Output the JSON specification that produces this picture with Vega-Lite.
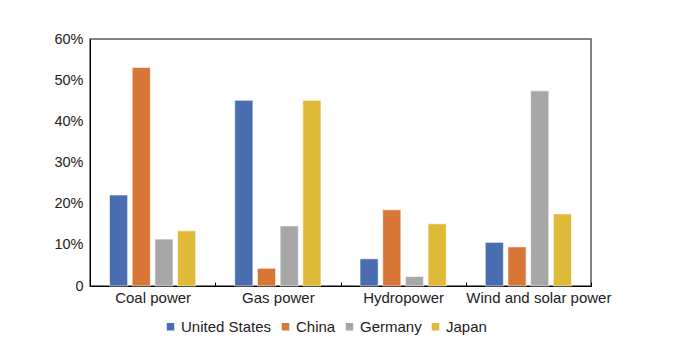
{
  "$schema": "https://vega.github.io/schema/vega-lite/v6.json",
  "width": 501,
  "height": 247,
  "autosize": {"type": "none"},
  "padding": {"left": 90, "top": 39, "right": 88, "bottom": 74},
  "background": "white",
  "config": {
    "font": "Liberation Sans",
    "view": {"stroke": "#5a5a5a", "strokeWidth": 1.5}
  },
  "data": {
    "values": [
      {"source": "Coal power", "country": "United States", "share": 22.1},
      {"source": "Coal power", "country": "China", "share": 53.1},
      {"source": "Coal power", "country": "Germany", "share": 11.4},
      {"source": "Coal power", "country": "Japan", "share": 13.4},
      {"source": "Gas power", "country": "United States", "share": 45.1},
      {"source": "Gas power", "country": "China", "share": 4.3},
      {"source": "Gas power", "country": "Germany", "share": 14.6},
      {"source": "Gas power", "country": "Japan", "share": 45.1},
      {"source": "Hydropower", "country": "United States", "share": 6.6},
      {"source": "Hydropower", "country": "China", "share": 18.5},
      {"source": "Hydropower", "country": "Germany", "share": 2.3},
      {"source": "Hydropower", "country": "Japan", "share": 15.1},
      {"source": "Wind and solar power", "country": "United States", "share": 10.6},
      {"source": "Wind and solar power", "country": "China", "share": 9.5},
      {"source": "Wind and solar power", "country": "Germany", "share": 47.4},
      {"source": "Wind and solar power", "country": "Japan", "share": 17.5}
    ]
  },
  "mark": {"type": "bar", "stroke": "#ffffff", "strokeOpacity": 0.6, "strokeWidth": 1},
  "encoding": {
    "x": {
      "field": "source",
      "type": "nominal",
      "sort": ["Coal power", "Gas power", "Hydropower", "Wind and solar power"],
      "scale": {"paddingInner": 0, "paddingOuter": 0},
      "axis": {
        "title": null,
        "labelAngle": 0,
        "tickBand": "extent",
        "tickSize": -4,
        "tickColor": "#000000",
        "domainColor": "#000000",
        "labelFontSize": 15,
        "labelColor": "#222222",
        "labelPadding": 8,
        "labelOffset": {"condition": {"test": "datum.label == 'Wind and solar power'", "value": 10}, "value": 0}
      }
    },
    "xOffset": {
      "field": "country",
      "sort": ["United States", "China", "Germany", "Japan"],
      "scale": {"paddingInner": 0.2, "paddingOuter": 0.86}
    },
    "y": {
      "field": "share",
      "type": "quantitative",
      "scale": {"domain": [0, 60]},
      "axis": {
        "title": null,
        "values": [0, 10, 20, 30, 40, 50, 60],
        "labelExpr": "datum.value == 0 ? '0' : datum.value + '%'",
        "grid": false,
        "ticks": false,
        "labelPadding": 7,
        "domainColor": "#000000",
        "labelFontSize": 14.5,
        "labelColor": "#222222"
      }
    },
    "color": {
      "field": "country",
      "type": "nominal",
      "sort": ["United States", "China", "Germany", "Japan"],
      "scale": {
        "domain": ["United States", "China", "Germany", "Japan"],
        "range": ["#4a6db0", "#d87638", "#a6a7a6", "#dfb938"]
      },
      "legend": {
        "title": null,
        "orient": "none",
        "direction": "horizontal",
        "legendX": 73,
        "legendY": 280,
        "symbolType": "square",
        "symbolSize": 56,
        "symbolStrokeWidth": 0,
        "labelFontSize": 15,
        "labelColor": "#222222",
        "labelOffset": 3,
        "columnPadding": 6
      }
    }
  }
}
